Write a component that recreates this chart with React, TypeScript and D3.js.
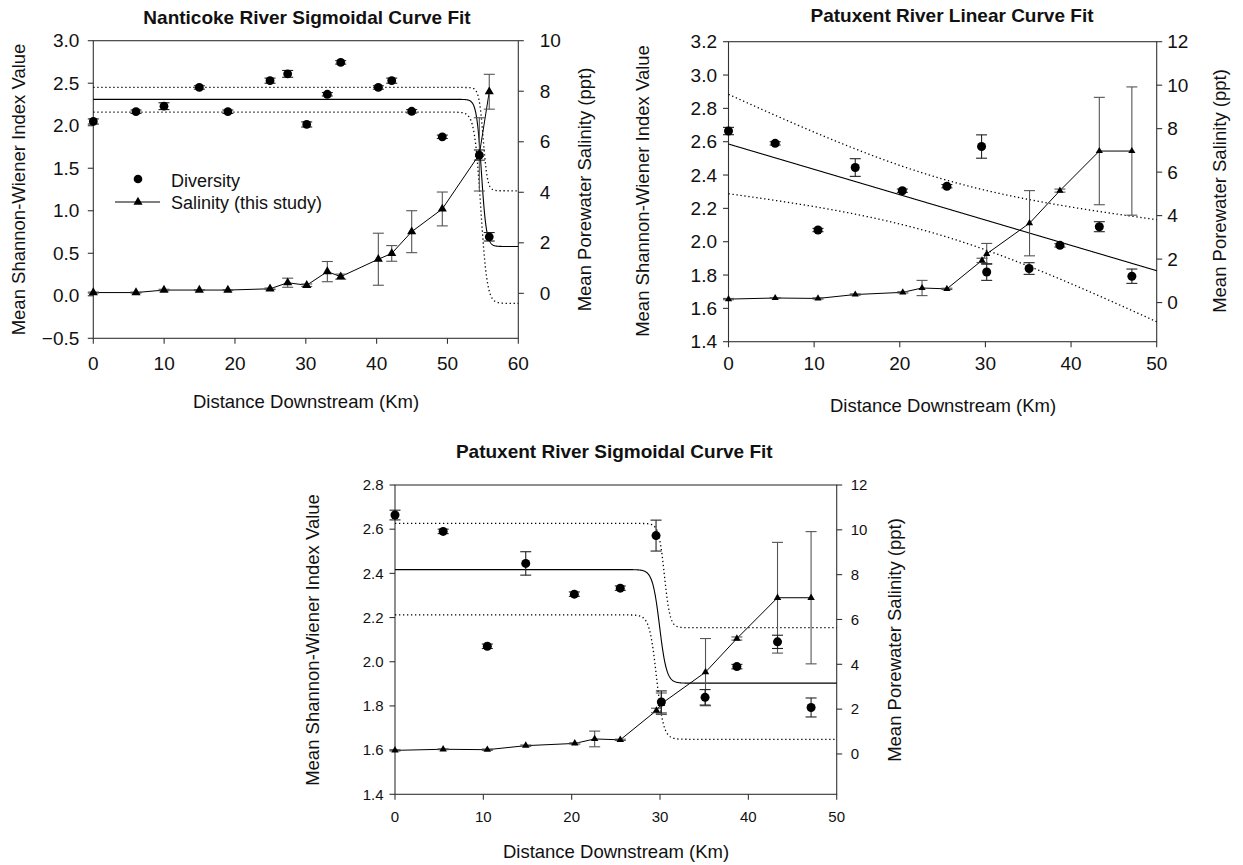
import React from "react";
import * as d3 from "d3";

// ---------------- Nanticoke River data ----------------
const nantKm = [0, 6.03, 9.98, 14.97, 19.0, 24.95, 27.44, 30.13, 33.04, 34.93, 40.24, 42.13, 44.95, 49.27, 54.5, 55.9];
const nantDiversity = [2.05, 2.165, 2.23, 2.45, 2.165, 2.53, 2.61, 2.015, 2.37, 2.745, 2.45, 2.53, 2.17, 1.87, 1.655, 0.694];
const nantDiversityErr = [0.03, 0.02, 0.04, 0.02, 0.02, 0.03, 0.04, 0.03, 0.02, 0.02, 0.02, 0.03, 0.02, 0.02, 0.06, 0.05];
const nantSalinity = [0.03, 0.03, 0.13, 0.13, 0.13, 0.18, 0.42, 0.32, 0.86, 0.66, 1.35, 1.58, 2.44, 3.34, 5.5, 7.98];
const nantSalinityErr = [0.02, 0.02, 0.03, 0.02, 0.02, 0.03, 0.18, 0.05, 0.4, 0.1, 1.03, 0.31, 0.83, 0.67, 1.45, 0.69];

// sigmoid fit of diversity (Nanticoke) and its dotted band
const nantSigFit = { top: 2.31, bottom: 0.58, x0: 54.8, s: 0.35 };
const nantSigUpper = { top: 2.45, bottom: 1.235, x0: 55.05, s: 0.3 };
const nantSigLower = { top: 2.16, bottom: -0.09, x0: 54.7, s: 0.45 };

// ---------------- Patuxent River data ----------------
const patDivKm = [0, 5.45, 10.45, 14.8, 20.3, 25.5, 29.55, 30.15, 35.1, 38.7, 43.3, 47.1];
const patDiversity = [2.664, 2.59, 2.07, 2.445, 2.306, 2.333, 2.571, 1.818, 1.839, 1.978, 2.09, 1.793];
const patDiversityErr = [0.022, 0.01, 0.01, 0.053, 0.01, 0.01, 0.07, 0.05, 0.035, 0.01, 0.03, 0.043];
const patSalKm = [0, 5.45, 10.45, 14.8, 20.35, 22.6, 25.5, 29.6, 30.15, 35.15, 38.7, 43.3, 47.1];
const patSalinity = [0.16, 0.21, 0.19, 0.37, 0.47, 0.67, 0.63, 1.94, 2.24, 3.65, 5.15, 6.97, 6.97];
const patSalinityErr = [0.03, 0.02, 0.03, 0.03, 0.03, 0.35, 0.03, 0.1, 0.48, 1.5, 0.07, 2.47, 2.95];

// linear fit (Patuxent) and band
const patLinFit = { intercept: 2.586, slope: -0.0152 };
const patLinBand = { center: 24.5, h0: 0.17, k: 1.0e-4 };

// sigmoid fit (Patuxent) and band
const patSigFit = { top: 2.417, bottom: 1.903, x0: 29.95, s: 0.4 };
const patSigUpper = { top: 2.626, bottom: 2.154, x0: 30.5, s: 0.32 };
const patSigLower = { top: 2.212, bottom: 1.649, x0: 29.6, s: 0.4 };

// ---------------- axis ticks ----------------
const nantXTicks = [0, 10, 20, 30, 40, 50, 60];
const nantYLTicks = [-0.5, 0, 0.5, 1.0, 1.5, 2.0, 2.5, 3.0];
const nantYRTicks = [0, 2, 4, 6, 8, 10];
const patXTicks = [0, 10, 20, 30, 40, 50];
const patLinYLTicks = [1.4, 1.6, 1.8, 2.0, 2.2, 2.4, 2.6, 2.8, 3.0, 3.2];
const patSigYLTicks = [1.4, 1.6, 1.8, 2.0, 2.2, 2.4, 2.6, 2.8];
const patYRTicks = [0, 2, 4, 6, 8, 10, 12];

const FONT = "'Liberation Sans', Arial, Helvetica, sans-serif";

type Sig = { top: number; bottom: number; x0: number; s: number };
const sigmoid = (p: Sig) => (k: number) => p.bottom + (p.top - p.bottom) / (1 + Math.exp((k - p.x0) / p.s));
const linear = (k: number) => patLinFit.intercept + patLinFit.slope * k;
const band = (k: number) => Math.sqrt(patLinBand.h0 ** 2 + patLinBand.k * (k - patLinBand.center) ** 2);

type Fit = { fn: (k: number) => number; dotted: boolean };

type Cfg = {
  left: number; right: number; top: number; bottom: number;
  xDomain: [number, number]; xTicks: number[];
  yLDomain: [number, number]; yLTicks: number[];
  yRDomain: [number, number]; yRTicks: number[];
  tickFont: number; xTickDy: number; yLGap: number; yRGap: number;
  title: string; titleX: number; titleY: number;
  xLabelX: number; xLabelY: number; leftLabelX: number; rightLabelX: number; labelCY: number;
  divKm: number[]; div: number[]; divErr: number[];
  salKm: number[]; sal: number[]; salErr: number[];
  fits: Fit[]; r: number; tri: number; legend?: boolean;
};

function Panel({ c }: { c: Cfg }) {
  const x = d3.scaleLinear().domain(c.xDomain).range([c.left, c.right]);
  const yL = d3.scaleLinear().domain(c.yLDomain).range([c.bottom, c.top]);
  const yR = d3.scaleLinear().domain(c.yRDomain).range([c.bottom, c.top]);
  const samples = d3.range(c.xDomain[0], c.xDomain[1] + 1e-9, 0.04);
  const fitLine = (fn: (k: number) => number) =>
    d3.line<number>().x((k) => x(k)).y((k) => yL(fn(k)))(samples) || "";
  const salPts = c.salKm.map((k, i) => [x(k), yR(c.sal[i])] as [number, number]);
  const salPath = d3.line()(salPts) || "";
  const triPath = d3.symbol().type(d3.symbolTriangle).size(c.tri)() || "";
  const axisCol = "#333";
  const cap = 5.5;
  const fmt = d3.format(".1f");
  return (
    <g fontFamily={FONT} fill="#111">
      <text x={c.titleX} y={c.titleY} textAnchor="middle" fontWeight="bold" fontSize={19}>{c.title}</text>
      <rect x={c.left} y={c.top} width={c.right - c.left} height={c.bottom - c.top} fill="none" stroke={axisCol} strokeWidth={1.1} />
      {c.xTicks.map((t) => (
        <g key={"x" + t}>
          <line x1={x(t)} x2={x(t)} y1={c.bottom} y2={c.bottom + 5.5} stroke={axisCol} strokeWidth={1.1} />
          <text x={x(t)} y={c.bottom + c.xTickDy} textAnchor="middle" fontSize={c.tickFont}>{t}</text>
        </g>
      ))}
      {c.yLTicks.map((t) => (
        <g key={"yl" + t}>
          <line x1={c.left - 5.5} x2={c.left} y1={yL(t)} y2={yL(t)} stroke={axisCol} strokeWidth={1.1} />
          <text x={c.left - c.yLGap} y={yL(t)} dy="0.35em" textAnchor="end" fontSize={c.tickFont}>{fmt(t)}</text>
        </g>
      ))}
      {c.yRTicks.map((t) => (
        <g key={"yr" + t}>
          <line x1={c.right} x2={c.right + 5.5} y1={yR(t)} y2={yR(t)} stroke={axisCol} strokeWidth={1.1} />
          <text x={c.right + c.yRGap} y={yR(t)} dy="0.35em" textAnchor="start" fontSize={c.tickFont}>{t}</text>
        </g>
      ))}
      <text x={c.xLabelX} y={c.xLabelY} textAnchor="middle" fontSize={18.5}>Distance Downstream (Km)</text>
      <text transform={`translate(${c.leftLabelX},${c.labelCY}) rotate(-90)`} textAnchor="middle" fontSize={18.5}>Mean Shannon-Wiener Index Value</text>
      <text transform={`translate(${c.rightLabelX},${c.labelCY}) rotate(-90)`} textAnchor="middle" fontSize={18.5}>Mean Porewater Salinity (ppt)</text>
      {c.fits.map((f, i) => (
        <path key={"f" + i} d={fitLine(f.fn)} fill="none" stroke="#000" strokeWidth={f.dotted ? 1.3 : 1.1}
          strokeDasharray={f.dotted ? "1.3 2.7" : undefined} />
      ))}
      <path d={salPath} fill="none" stroke="#000" strokeWidth={1} />
      {c.salKm.map((k, i) => {
        const px = x(k), y1 = yR(c.sal[i] + c.salErr[i]), y2 = yR(c.sal[i] - c.salErr[i]);
        return (
          <g key={"se" + i} stroke="#555" strokeWidth={1.1}>
            <line x1={px} x2={px} y1={y1} y2={y2} />
            <line x1={px - cap} x2={px + cap} y1={y1} y2={y1} />
            <line x1={px - cap} x2={px + cap} y1={y2} y2={y2} />
          </g>
        );
      })}
      {c.divKm.map((k, i) => {
        const px = x(k), y1 = yL(c.div[i] + c.divErr[i]), y2 = yL(c.div[i] - c.divErr[i]);
        return (
          <g key={"de" + i} stroke="#222" strokeWidth={1.1}>
            <line x1={px} x2={px} y1={y1} y2={y2} />
            <line x1={px - cap} x2={px + cap} y1={y1} y2={y1} />
            <line x1={px - cap} x2={px + cap} y1={y2} y2={y2} />
          </g>
        );
      })}
      {salPts.map(([px, py], i) => (
        <path key={"t" + i} d={triPath} transform={`translate(${px},${py})`} fill="#000" />
      ))}
      {c.divKm.map((k, i) => (
        <circle key={"c" + i} cx={x(k)} cy={yL(c.div[i])} r={c.r} fill="#000" />
      ))}
      {c.legend && (
        <g>
          <circle cx={138} cy={179} r={4.3} fill="#000" />
          <text x={171} y={186.5} fontSize={18}>Diversity</text>
          <line x1={115} x2={160} y1={202} y2={202} stroke="#000" strokeWidth={1} />
          <path d={triPath} transform="translate(138,202)" fill="#000" />
          <text x={171} y={208.5} fontSize={18}>Salinity (this study)</text>
        </g>
      )}
    </g>
  );
}

const p1: Cfg = {
  left: 93.3, right: 518.3, top: 40.7, bottom: 338.3,
  xDomain: [0, 60], xTicks: nantXTicks,
  yLDomain: [-0.5, 3.0], yLTicks: nantYLTicks,
  yRDomain: [-1.78, 10], yRTicks: nantYRTicks,
  tickFont: 19, xTickDy: 31.5, yLGap: 14, yRGap: 21.5,
  title: "Nanticoke River Sigmoidal Curve Fit", titleX: 307, titleY: 24,
  xLabelX: 306, xLabelY: 408, leftLabelX: 25, rightLabelX: 590.5, labelCY: 189.5,
  divKm: nantKm, div: nantDiversity, divErr: nantDiversityErr,
  salKm: nantKm, sal: nantSalinity, salErr: nantSalinityErr,
  fits: [
    { fn: sigmoid(nantSigUpper), dotted: true },
    { fn: sigmoid(nantSigLower), dotted: true },
    { fn: sigmoid(nantSigFit), dotted: false },
  ],
  r: 4.4, tri: 36, legend: true,
};

const p2: Cfg = {
  left: 728.5, right: 1156.7, top: 41.7, bottom: 341.7,
  xDomain: [0, 50], xTicks: patXTicks,
  yLDomain: [1.4, 3.2], yLTicks: patLinYLTicks,
  yRDomain: [-1.8, 12], yRTicks: patYRTicks,
  tickFont: 19, xTickDy: 28.5, yLGap: 11.5, yRGap: 10.5,
  title: "Patuxent River Linear Curve Fit", titleX: 952, titleY: 22,
  xLabelX: 943, xLabelY: 412, leftLabelX: 648.5, rightLabelX: 1226, labelCY: 191,
  divKm: patDivKm, div: patDiversity, divErr: patDiversityErr,
  salKm: patSalKm, sal: patSalinity, salErr: patSalinityErr,
  fits: [
    { fn: (k) => linear(k) + band(k), dotted: true },
    { fn: (k) => linear(k) - band(k), dotted: true },
    { fn: linear, dotted: false },
  ],
  r: 4.5, tri: 22,
};

const p3: Cfg = {
  left: 395, right: 836.7, top: 485, bottom: 794.3,
  xDomain: [0, 50], xTicks: patXTicks,
  yLDomain: [1.4, 2.8], yLTicks: patSigYLTicks,
  yRDomain: [-1.8, 12], yRTicks: patYRTicks,
  tickFont: 15, xTickDy: 27.5, yLGap: 11.5, yRGap: 14,
  title: "Patuxent River Sigmoidal Curve Fit", titleX: 614.3, titleY: 458,
  xLabelX: 616, xLabelY: 858, leftLabelX: 318.5, rightLabelX: 901, labelCY: 640,
  divKm: patDivKm, div: patDiversity, divErr: patDiversityErr,
  salKm: patSalKm, sal: patSalinity, salErr: patSalinityErr,
  fits: [
    { fn: sigmoid(patSigUpper), dotted: true },
    { fn: sigmoid(patSigLower), dotted: true },
    { fn: sigmoid(patSigFit), dotted: false },
  ],
  r: 4.5, tri: 24,
};

export default function App() {
  return (
    <svg width={1243} height={865} style={{ position: "absolute", left: 0, top: 0, background: "#fff" }}>
      <rect x={0} y={0} width={1243} height={865} fill="#fff" />
      <Panel c={p1} />
      <Panel c={p2} />
      <Panel c={p3} />
    </svg>
  );
}
